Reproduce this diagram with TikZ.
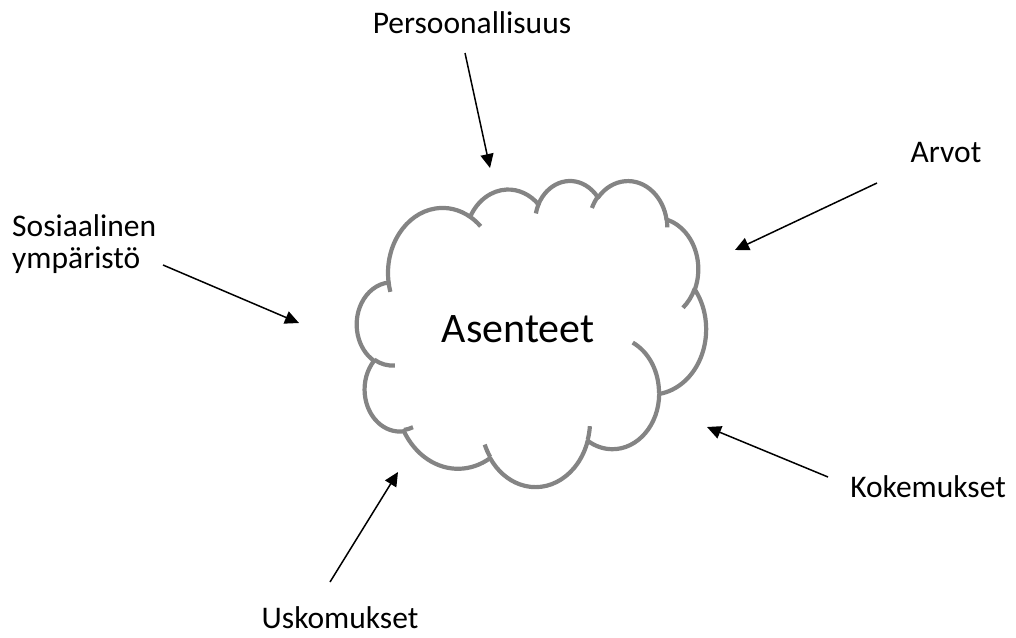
\documentclass[tikz,border=0pt]{standalone}
\usepackage{fontspec}
\setmainfont{Carlito}
\usetikzlibrary{arrows.meta}

% Elliptical arc given by radii and start/sweep angles measured as true
% directions from the centre (y pointing down); converted here to the
% parametric angles that TikZ's arc operation expects.
\newcommand\ooarc[4]{%
  \pgfextra{%
    \pgfmathsetmacro\ooa{atan2((#1)*sin(#3),(#2)*cos(#3))}%
    \pgfmathsetmacro\oob{atan2((#1)*sin((#3)+(#4)),(#2)*cos((#3)+(#4)))}%
    \pgfmathsetmacro\oob{\ooa+mod((\oob)-(\ooa)+720,360)}%
  }%
  arc[x radius=#1, y radius=#2, start angle=\ooa, end angle=\oob]}

\definecolor{cloudgray}{RGB}{132,132,132}

\tikzset{
  lbl/.style={font=\fontsize{31.5}{32}\selectfont, inner sep=0pt, text=black},
  bigtxt/.style={font=\fontsize{42}{46}\selectfont, inner sep=0pt, text=black},
  cloudline/.style={draw=cloudgray, line width=4.2pt, line join=round},
  infl/.style={draw=black, line width=1.5pt,
    -{Triangle[length=14pt,width=13pt]}, shorten >=0pt},
}

\begin{document}
\begin{tikzpicture}[x=1pt, y=-1pt]
\useasboundingbox (0,0) rectangle (1016,637);

% cloud outline
\begin{scope}[shift={(357pt,-180pt)}, x=0.80787pt, y=-0.70833pt]
  \filldraw[cloudline, fill=white] (39.00,143.70)
    \ooarc{67.53}{91.90}{-190.4875}{123.7805}
    \ooarc{53.33}{72.67}{-144.1024}{89.9452}
    \ooarc{43.65}{59.45}{-145.8079}{99.7230}
    \ooarc{48.57}{65.95}{-130.9861}{117.2417}
    \ooarc{53.33}{72.73}{-78.7089}{109.0269}
    \ooarc{67.75}{92.20}{-46.2673}{130.2690}
    \ooarc{57.85}{78.67}{0.6250}{114.0333}
    \ooarc{67.52}{92.15}{22.4516}{115.1726}
    \ooarc{77.20}{105.43}{66.2426}{75.7110}
    \ooarc{43.60}{59.36}{-274.9421}{146.7356}
    \ooarc{43.45}{59.45}{-246.8285}{152.5189}
    -- cycle;
  % inner curls of the cloud
  \draw[cloudline]
    (46.93,261.77) \ooarc{43.45}{59.45}{86.7420}{26.4295}
    (69.28,348.99) \ooarc{43.60}{59.36}{73.6105}{11.4475}
    (164.78,390.90) \ooarc{67.52}{92.15}{137.6242}{14.0811}
    (288.27,347.51) \ooarc{67.52}{92.15}{6.4533}{15.9984}
    (341.29,229.54) \ooarc{57.85}{78.67}{-70.2924}{70.9174}
    (417.98,153.54) \ooarc{53.33}{72.73}{30.3180}{27.7515}
    (383.24,54.26) \ooarc{48.57}{65.95}{-13.7443}{14.8506}
    (290.78,39.52) \ooarc{48.57}{65.95}{-149.1815}{18.1954}
    (221.41,47.20) \ooarc{43.65}{59.45}{-163.4943}{17.6864}
    (140.00,51.92) \ooarc{67.53}{91.90}{-66.7070}{12.3194}
    (41.27,157.89) \ooarc{67.53}{91.90}{157.7710}{11.8582};
\end{scope}

\node[bigtxt, anchor=base] (ase) at (518,342) {Asenteet};

% labels
\node[lbl, anchor=base] (pers) at (472,33) {Persoonallisuus};
\node[lbl, anchor=base] (arv) at (946,162) {Arvot};
\node[lbl, anchor=base west, align=left] (sos) at (12,268) {Sosiaalinen\\ympäristö};
\node[lbl, anchor=base] (kok) at (928,497) {Kokemukset};
\node[lbl, anchor=base] (usk) at (340,628) {Uskomukset};

% arrow end points
\coordinate (persA) at (465,53);  \coordinate (persB) at (490,168);
\coordinate (arvA)  at (877,183); \coordinate (arvB)  at (735,250);
\coordinate (sosA)  at (163,265); \coordinate (sosB)  at (299,323);
\coordinate (kokA)  at (828,477); \coordinate (kokB)  at (707,427);
\coordinate (uskA)  at (330,582); \coordinate (uskB)  at (398,472);

\draw[infl] (persA) -- (persB);
\draw[infl] (arvA) -- (arvB);
\draw[infl] (sosA) -- (sosB);
\draw[infl] (kokA) -- (kokB);
\draw[infl] (uskA) -- (uskB);
\end{tikzpicture}
\end{document}
